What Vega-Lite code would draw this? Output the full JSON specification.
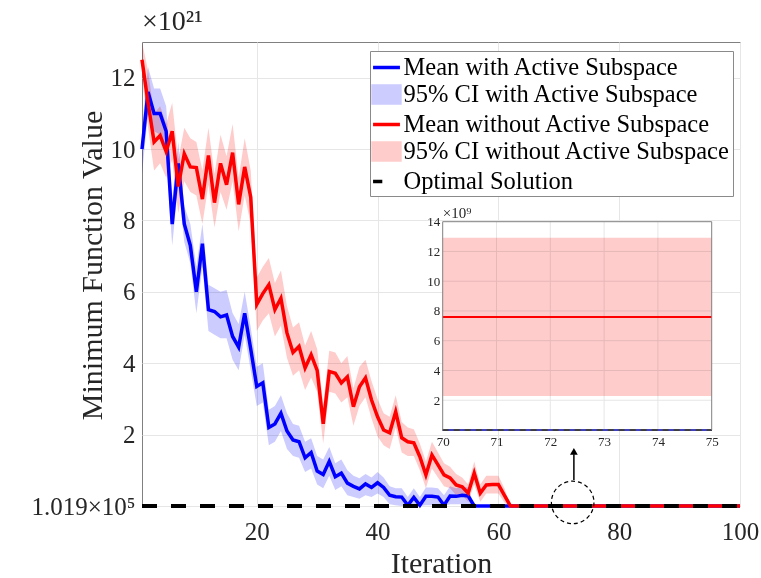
{
 "$schema": "https://vega.github.io/schema/vega-lite/v6.json",
 "width": 598, "height": 464,
 "autosize": "none",
 "padding": {"left": 142, "top": 42, "right": 21, "bottom": 72},
 "background": "white",
 "title": {"text": "×10²¹", "anchor": "start", "frame": "group", "font": "Liberation Serif", "fontSize": 28, "fontWeight": "normal", "color": "#262626", "offset": 6},
 "config": {
  "view": {"stroke": "#808080", "strokeWidth": 1},
  "axis": {"labelFont": "Liberation Serif", "titleFont": "Liberation Serif", "labelColor": "#262626", "titleColor": "#262626", "titleFontWeight": "normal", "domain": false, "ticks": false, "gridColor": "#e6e6e6", "gridWidth": 1}
 },
 "datasets": {
  "m": [
   {"it":1,"bm":10.0,"bl":9.3,"bh":10.6,"rm":12.5,"rl":12.0,"rh":13.0},
   {"it":2,"bm":11.6,"bl":11.0,"bh":12.3,"rm":11.3,"rl":10.6,"rh":12.2},
   {"it":3,"bm":11.0,"bl":10.5,"bh":11.7,"rm":10.2,"rl":9.4,"rh":11.0},
   {"it":4,"bm":11.0,"bl":10.4,"bh":11.7,"rm":10.38,"rl":9.6,"rh":11.2},
   {"it":5,"bm":10.5,"bl":9.8,"bh":11.2,"rm":9.93,"rl":9.2,"rh":10.7},
   {"it":6,"bm":7.9,"bl":7.3,"bh":8.6,"rm":10.5,"rl":9.7,"rh":11.3},
   {"it":7,"bm":9.6,"bl":9.0,"bh":10.2,"rm":8.95,"rl":8.2,"rh":9.7},
   {"it":8,"bm":7.9,"bl":7.4,"bh":8.4,"rm":9.87,"rl":9.1,"rh":10.6},
   {"it":9,"bm":7.3,"bl":6.8,"bh":7.9,"rm":9.5,"rl":8.8,"rh":10.3},
   {"it":10,"bm":6.0,"bl":5.4,"bh":6.7,"rm":9.48,"rl":8.7,"rh":10.2},
   {"it":11,"bm":7.35,"bl":6.7,"bh":7.9,"rm":8.6,"rl":7.9,"rh":9.4},
   {"it":12,"bm":5.5,"bl":4.9,"bh":6.2,"rm":9.82,"rl":9.0,"rh":10.6},
   {"it":13,"bm":5.45,"bl":4.8,"bh":6.1,"rm":8.5,"rl":7.8,"rh":9.3},
   {"it":14,"bm":5.3,"bl":4.7,"bh":6.0,"rm":9.6,"rl":8.8,"rh":10.4},
   {"it":15,"bm":5.35,"bl":4.7,"bh":6.05,"rm":9.0,"rl":8.3,"rh":9.8},
   {"it":16,"bm":4.75,"bl":4.1,"bh":5.4,"rm":9.9,"rl":9.1,"rh":10.7},
   {"it":17,"bm":4.45,"bl":3.8,"bh":5.1,"rm":8.45,"rl":7.7,"rh":9.2},
   {"it":18,"bm":5.4,"bl":4.8,"bh":6.0,"rm":9.5,"rl":8.7,"rh":10.3},
   {"it":19,"bm":4.4,"bl":3.8,"bh":5.0,"rm":8.65,"rl":7.9,"rh":9.4},
   {"it":20,"bm":3.35,"bl":2.8,"bh":3.9,"rm":5.65,"rl":4.9,"rh":6.4},
   {"it":21,"bm":3.45,"bl":2.9,"bh":4.0,"rm":5.95,"rl":5.2,"rh":6.7},
   {"it":22,"bm":2.2,"bl":1.7,"bh":2.7,"rm":6.2,"rl":5.4,"rh":6.95},
   {"it":23,"bm":2.3,"bl":1.8,"bh":2.8,"rm":5.5,"rl":4.75,"rh":6.25},
   {"it":24,"bm":2.6,"bl":2.1,"bh":3.1,"rm":5.82,"rl":5.05,"rh":6.6},
   {"it":25,"bm":2.1,"bl":1.6,"bh":2.6,"rm":4.85,"rl":4.15,"rh":5.6},
   {"it":26,"bm":1.85,"bl":1.4,"bh":2.3,"rm":4.3,"rl":3.65,"rh":5.0},
   {"it":27,"bm":1.8,"bl":1.35,"bh":2.25,"rm":4.47,"rl":3.8,"rh":5.15},
   {"it":28,"bm":1.35,"bl":0.95,"bh":1.8,"rm":3.87,"rl":3.25,"rh":4.5},
   {"it":29,"bm":1.5,"bl":1.05,"bh":1.9,"rm":4.24,"rl":3.6,"rh":4.9},
   {"it":30,"bm":0.98,"bl":0.6,"bh":1.4,"rm":3.8,"rl":3.2,"rh":4.4},
   {"it":31,"bm":0.88,"bl":0.5,"bh":1.3,"rm":2.3,"rl":1.75,"rh":2.85},
   {"it":32,"bm":1.25,"bl":0.85,"bh":1.65,"rm":3.77,"rl":3.2,"rh":4.35},
   {"it":33,"bm":0.82,"bl":0.45,"bh":1.2,"rm":3.72,"rl":3.15,"rh":4.3},
   {"it":34,"bm":0.92,"bl":0.55,"bh":1.3,"rm":3.45,"rl":2.9,"rh":4.0},
   {"it":35,"bm":0.64,"bl":0.3,"bh":1.0,"rm":3.62,"rl":3.05,"rh":4.2},
   {"it":36,"bm":0.55,"bl":0.25,"bh":0.85,"rm":2.78,"rl":2.25,"rh":3.3},
   {"it":37,"bm":0.48,"bl":0.2,"bh":0.78,"rm":3.34,"rl":2.8,"rh":3.9},
   {"it":38,"bm":0.62,"bl":0.3,"bh":0.9,"rm":3.59,"rl":3.05,"rh":4.1},
   {"it":39,"bm":0.52,"bl":0.25,"bh":0.8,"rm":2.97,"rl":2.45,"rh":3.5},
   {"it":40,"bm":0.65,"bl":0.35,"bh":0.95,"rm":2.5,"rl":1.95,"rh":3.0},
   {"it":41,"bm":0.52,"bl":0.25,"bh":0.8,"rm":2.13,"rl":1.7,"rh":2.6},
   {"it":42,"bm":0.3,"bl":0.05,"bh":0.55,"rm":2.05,"rl":1.6,"rh":2.5},
   {"it":43,"bm":0.26,"bl":0.02,"bh":0.5,"rm":2.64,"rl":2.2,"rh":3.1},
   {"it":44,"bm":0.25,"bl":0.0,"bh":0.5,"rm":1.91,"rl":1.5,"rh":2.35},
   {"it":45,"bm":0.02,"bl":0.0,"bh":0.25,"rm":1.8,"rl":1.4,"rh":2.2},
   {"it":46,"bm":0.24,"bl":0.0,"bh":0.5,"rm":1.77,"rl":1.4,"rh":2.15},
   {"it":47,"bm":0.02,"bl":0.0,"bh":0.25,"rm":1.38,"rl":1.0,"rh":1.75},
   {"it":48,"bm":0.27,"bl":0.02,"bh":0.52,"rm":0.87,"rl":0.5,"rh":1.25},
   {"it":49,"bm":0.27,"bl":0.02,"bh":0.52,"rm":1.43,"rl":1.05,"rh":1.8},
   {"it":50,"bm":0.25,"bl":0.02,"bh":0.5,"rm":1.15,"rl":0.8,"rh":1.5},
   {"it":51,"bm":0.02,"bl":0.0,"bh":0.3,"rm":0.87,"rl":0.55,"rh":1.2},
   {"it":52,"bm":0.28,"bl":0.05,"bh":0.55,"rm":0.79,"rl":0.5,"rh":1.1},
   {"it":53,"bm":0.27,"bl":0.05,"bh":0.5,"rm":0.59,"rl":0.3,"rh":0.9},
   {"it":54,"bm":0.3,"bl":0.05,"bh":0.55,"rm":0.54,"rl":0.3,"rh":0.8},
   {"it":55,"bm":0.28,"bl":0.05,"bh":0.52,"rm":0.36,"rl":0.12,"rh":0.6},
   {"it":56,"bm":0,"bl":0,"bh":0,"rm":0.92,"rl":0.6,"rh":1.25},
   {"it":57,"bm":0,"bl":0,"bh":0,"rm":0.36,"rl":0.12,"rh":0.6},
   {"it":58,"bm":0,"bl":0,"bh":0,"rm":0.59,"rl":0.35,"rh":0.85},
   {"it":59,"bm":0,"bl":0,"bh":0,"rm":0.6,"rl":0.35,"rh":0.85},
   {"it":60,"bm":0,"bl":0,"bh":0,"rm":0.6,"rl":0.35,"rh":0.85},
   {"it":61,"bm":0,"bl":0,"bh":0,"rm":0.3,"rl":0.1,"rh":0.5},
   {"it":62,"bm":0,"bl":0,"bh":0,"rm":0,"rl":0,"rh":0},
   {"it":63,"bm":0,"bl":0,"bh":0,"rm":0,"rl":0,"rh":0},
   {"it":64,"bm":0,"bl":0,"bh":0,"rm":0,"rl":0,"rh":0},
   {"it":65,"bm":0,"bl":0,"bh":0,"rm":0,"rl":0,"rh":0},
   {"it":66,"bm":0,"bl":0,"bh":0,"rm":0,"rl":0,"rh":0},
   {"it":67,"bm":0,"bl":0,"bh":0,"rm":0,"rl":0,"rh":0},
   {"it":68,"bm":0,"bl":0,"bh":0,"rm":0,"rl":0,"rh":0},
   {"it":69,"bm":0,"bl":0,"bh":0,"rm":0,"rl":0,"rh":0},
   {"it":70,"bm":0,"bl":0,"bh":0,"rm":0,"rl":0,"rh":0},
   {"it":71,"bm":0,"bl":0,"bh":0,"rm":0,"rl":0,"rh":0},
   {"it":72,"bm":0,"bl":0,"bh":0,"rm":0,"rl":0,"rh":0},
   {"it":73,"bm":0,"bl":0,"bh":0,"rm":0,"rl":0,"rh":0},
   {"it":74,"bm":0,"bl":0,"bh":0,"rm":0,"rl":0,"rh":0},
   {"it":75,"bm":0,"bl":0,"bh":0,"rm":0,"rl":0,"rh":0},
   {"it":76,"bm":0,"bl":0,"bh":0,"rm":0,"rl":0,"rh":0},
   {"it":77,"bm":0,"bl":0,"bh":0,"rm":0,"rl":0,"rh":0},
   {"it":78,"bm":0,"bl":0,"bh":0,"rm":0,"rl":0,"rh":0},
   {"it":79,"bm":0,"bl":0,"bh":0,"rm":0,"rl":0,"rh":0},
   {"it":80,"bm":0,"bl":0,"bh":0,"rm":0,"rl":0,"rh":0},
   {"it":81,"bm":0,"bl":0,"bh":0,"rm":0,"rl":0,"rh":0},
   {"it":82,"bm":0,"bl":0,"bh":0,"rm":0,"rl":0,"rh":0},
   {"it":83,"bm":0,"bl":0,"bh":0,"rm":0,"rl":0,"rh":0},
   {"it":84,"bm":0,"bl":0,"bh":0,"rm":0,"rl":0,"rh":0},
   {"it":85,"bm":0,"bl":0,"bh":0,"rm":0,"rl":0,"rh":0},
   {"it":86,"bm":0,"bl":0,"bh":0,"rm":0,"rl":0,"rh":0},
   {"it":87,"bm":0,"bl":0,"bh":0,"rm":0,"rl":0,"rh":0},
   {"it":88,"bm":0,"bl":0,"bh":0,"rm":0,"rl":0,"rh":0},
   {"it":89,"bm":0,"bl":0,"bh":0,"rm":0,"rl":0,"rh":0},
   {"it":90,"bm":0,"bl":0,"bh":0,"rm":0,"rl":0,"rh":0},
   {"it":91,"bm":0,"bl":0,"bh":0,"rm":0,"rl":0,"rh":0},
   {"it":92,"bm":0,"bl":0,"bh":0,"rm":0,"rl":0,"rh":0},
   {"it":93,"bm":0,"bl":0,"bh":0,"rm":0,"rl":0,"rh":0},
   {"it":94,"bm":0,"bl":0,"bh":0,"rm":0,"rl":0,"rh":0},
   {"it":95,"bm":0,"bl":0,"bh":0,"rm":0,"rl":0,"rh":0},
   {"it":96,"bm":0,"bl":0,"bh":0,"rm":0,"rl":0,"rh":0},
   {"it":97,"bm":0,"bl":0,"bh":0,"rm":0,"rl":0,"rh":0},
   {"it":98,"bm":0,"bl":0,"bh":0,"rm":0,"rl":0,"rh":0},
   {"it":99,"bm":0,"bl":0,"bh":0,"rm":0,"rl":0,"rh":0},
   {"it":100,"bm":0,"bl":0,"bh":0,"rm":0,"rl":0,"rh":0}
  ],
  "inset": [
   {"ix":70,"rm":7.6,"rl":2.28,"rh":12.92,"z":0},
   {"ix":75,"rm":7.6,"rl":2.28,"rh":12.92,"z":0}
  ]
 },
 "layer": [
  {
   "data": {"name": "m"},
   "mark": {"type": "area", "opacity": 1, "blend": "multiply"},
   "encoding": {
    "x": {"field": "it", "type": "quantitative", "scale": {"domain": [1, 100], "nice": false, "zero": false},
          "axis": {"orient": "bottom", "values": [20, 40, 60, 80, 100], "labelFontSize": 25, "labelPadding": 13, "grid": true, "labelFlush": false, "title": "Iteration", "titleFontSize": 30, "titleY": 57, "titleBaseline": "middle"}},
    "y": {"field": "bl", "type": "quantitative", "scale": {"domain": [0, 13], "nice": false, "zero": false},
          "axis": {"orient": "left", "values": [0, 2, 4, 6, 8, 10, 12], "labelExpr": "datum.value == 0 ? '1.019×10⁵' : datum.label", "labelFontSize": 25, "labelPadding": 7, "grid": true, "title": "Minimum Function Value", "titleFontSize": 30, "titleX": -50, "titleY": 223, "titleBaseline": "middle"}},
    "y2": {"field": "bh"},
    "color": {"datum": "95% CI with Active Subspace", "type": "nominal",
      "scale": {"domain": ["Mean with Active Subspace", "95% CI with Active Subspace", "Mean without Active Subspace", "95% CI without Active Subspace", "Optimal Solution"], "range": ["#0000ff", "#ccccff", "#ff0000", "#ffcccc", "#000000"]},
      "legend": {"title": null, "orient": "none", "legendX": 228, "legendY": 9, "direction": "vertical",
        "labelFont": "Liberation Serif", "labelFontSize": 24.5, "labelColor": "#000000", "labelLimit": 500,
        "symbolSize": 576, "symbolStrokeWidth": 3.5, "symbolOpacity": 1, "labelOffset": 3, "rowPadding": -1, "padding": 2.5,
        "fillColor": "#ffffff", "strokeColor": "#8a8a8a",
        "encoding": {"symbols": {
          "shape": {"value": {"expr": "indexof(datum.value, 'CI') >= 0 ? 'M-1.12,-0.7H1.12V0.7H-1.12Z' : datum.value == 'Optimal Solution' ? 'M-1.12,0H-0.35' : 'M-1.12,0H1.12'"}},
          "stroke": {"value": {"expr": "indexof(datum.value, 'CI') >= 0 ? 'transparent' : datum.value == 'Optimal Solution' ? '#000000' : datum.value == 'Mean with Active Subspace' ? '#0000ff' : '#ff0000'"}}
        }}
      }
    }
   }
  },
  {
   "data": {"name": "m"},
   "mark": {"type": "area", "opacity": 1, "blend": "multiply"},
   "encoding": {
    "x": {"field": "it", "type": "quantitative", "scale": {"domain": [1, 100], "nice": false, "zero": false}, "axis": null},
    "y": {"field": "rl", "type": "quantitative", "scale": {"domain": [0, 13], "nice": false, "zero": false}, "axis": null},
    "y2": {"field": "rh"},
    "color": {"datum": "95% CI without Active Subspace", "type": "nominal", "legend": null}
   }
  },
  {
   "data": {"name": "m"},
   "mark": {"type": "line", "strokeWidth": 3.5},
   "encoding": {
    "x": {"field": "it", "type": "quantitative", "scale": {"domain": [1, 100], "nice": false, "zero": false}, "axis": null},
    "y": {"field": "bm", "type": "quantitative", "scale": {"domain": [0, 13], "nice": false, "zero": false}, "axis": null},
    "color": {"datum": "Mean with Active Subspace", "type": "nominal", "legend": null}
   }
  },
  {
   "data": {"name": "m"},
   "mark": {"type": "line", "strokeWidth": 3.5},
   "encoding": {
    "x": {"field": "it", "type": "quantitative", "scale": {"domain": [1, 100], "nice": false, "zero": false}, "axis": null},
    "y": {"field": "rm", "type": "quantitative", "scale": {"domain": [0, 13], "nice": false, "zero": false}, "axis": null},
    "color": {"datum": "Mean without Active Subspace", "type": "nominal", "legend": null}
   }
  },
  {
   "data": {"values": [{"a": 1, "b": 100, "v": 0}]},
   "mark": {"type": "rule", "strokeWidth": 4, "strokeDash": [15, 14]},
   "encoding": {
    "x": {"field": "a", "type": "quantitative", "scale": {"domain": [1, 100], "nice": false, "zero": false}, "axis": null},
    "x2": {"field": "b"},
    "y": {"field": "v", "type": "quantitative", "scale": {"domain": [0, 13], "nice": false, "zero": false}, "axis": null},
    "color": {"datum": "Optimal Solution", "type": "nominal", "legend": null}
   }
  },
  {
   "data": {"values": [{"it": 72.3, "v": 0.1}]},
   "mark": {"type": "point", "shape": "circle", "size": 1810, "filled": false, "color": "#000000", "strokeWidth": 1.2, "strokeDash": [4, 3], "opacity": 1},
   "encoding": {
    "x": {"field": "it", "type": "quantitative", "scale": {"domain": [1, 100], "nice": false, "zero": false}, "axis": null},
    "y": {"field": "v", "type": "quantitative", "scale": {"domain": [0, 13], "nice": false, "zero": false}, "axis": null}
   }
  },
  {
   "data": {"values": [{"it": 72.5, "v1": 0.73, "v2": 1.45}]},
   "mark": {"type": "rule", "color": "#000000", "strokeWidth": 1.5},
   "encoding": {
    "x": {"field": "it", "type": "quantitative", "scale": {"domain": [1, 100], "nice": false, "zero": false}, "axis": null},
    "y": {"field": "v1", "type": "quantitative", "scale": {"domain": [0, 13], "nice": false, "zero": false}, "axis": null},
    "y2": {"field": "v2"}
   }
  },
  {
   "data": {"values": [{"it": 72.5, "v": 1.53}]},
   "mark": {"type": "point", "shape": "triangle-up", "size": 60, "filled": true, "color": "#000000", "opacity": 1},
   "encoding": {
    "x": {"field": "it", "type": "quantitative", "scale": {"domain": [1, 100], "nice": false, "zero": false}, "axis": null},
    "y": {"field": "v", "type": "quantitative", "scale": {"domain": [0, 13], "nice": false, "zero": false}, "axis": null}
   }
  },
  {
   "data": {"values": [{"x1": 70, "x2": 75, "y1": 0, "y2": 14}]},
   "mark": {"type": "rect", "fill": "#ffffff", "strokeWidth": 0},
   "encoding": {
    "x": {"field": "x1", "type": "quantitative", "scale": {"domain": [64.411, 75.526], "nice": false, "zero": false},
          "axis": {"orient": "bottom", "offset": -76, "values": [70, 71, 72, 73, 74, 75], "labelFontSize": 13, "labelPadding": 5, "grid": false, "title": null, "zindex": 1, "labelFlush": false}},
    "x2": {"field": "x2"},
    "y": {"field": "y1", "type": "quantitative", "scale": {"domain": [-5.108, 26.077], "nice": false, "zero": false},
          "axis": {"orient": "left", "offset": -300.7, "values": [2, 4, 6, 8, 10, 12, 14], "labelFontSize": 13, "labelPadding": 3, "grid": false, "title": null, "zindex": 1}},
    "y2": {"field": "y2"}
   }
  },
  {
   "data": {"values": [{"g": 71}, {"g": 72}, {"g": 73}, {"g": 74}]},
   "mark": {"type": "rule", "color": "#e6e6e6", "strokeWidth": 1},
   "encoding": {
    "x": {"field": "g", "type": "quantitative", "scale": {"domain": [64.411, 75.526], "nice": false, "zero": false}, "axis": null},
    "y": {"datum": 0, "type": "quantitative", "scale": {"domain": [-5.108, 26.077], "nice": false, "zero": false}, "axis": null},
    "y2": {"datum": 14}
   }
  },
  {
   "data": {"values": [{"g": 2}, {"g": 4}, {"g": 6}, {"g": 8}, {"g": 10}, {"g": 12}]},
   "mark": {"type": "rule", "color": "#e6e6e6", "strokeWidth": 1},
   "encoding": {
    "y": {"field": "g", "type": "quantitative", "scale": {"domain": [-5.108, 26.077], "nice": false, "zero": false}, "axis": null},
    "x": {"datum": 70, "type": "quantitative", "scale": {"domain": [64.411, 75.526], "nice": false, "zero": false}, "axis": null},
    "x2": {"datum": 75}
   }
  },
  {
   "data": {"name": "inset"},
   "mark": {"type": "area", "color": "#ffcccc", "opacity": 1, "blend": "multiply"},
   "encoding": {
    "x": {"field": "ix", "type": "quantitative", "scale": {"domain": [64.411, 75.526], "nice": false, "zero": false}, "axis": null},
    "y": {"field": "rl", "type": "quantitative", "scale": {"domain": [-5.108, 26.077], "nice": false, "zero": false}, "axis": null},
    "y2": {"field": "rh"}
   }
  },
  {
   "data": {"name": "inset"},
   "mark": {"type": "line", "color": "#ff0000", "strokeWidth": 2},
   "encoding": {
    "x": {"field": "ix", "type": "quantitative", "scale": {"domain": [64.411, 75.526], "nice": false, "zero": false}, "axis": null},
    "y": {"field": "rm", "type": "quantitative", "scale": {"domain": [-5.108, 26.077], "nice": false, "zero": false}, "axis": null}
   }
  },
  {
   "data": {"name": "inset"},
   "mark": {"type": "line", "color": "#0000ff", "strokeWidth": 2},
   "encoding": {
    "x": {"field": "ix", "type": "quantitative", "scale": {"domain": [64.411, 75.526], "nice": false, "zero": false}, "axis": null},
    "y": {"field": "z", "type": "quantitative", "scale": {"domain": [-5.108, 26.077], "nice": false, "zero": false}, "axis": null}
   }
  },
  {
   "data": {"name": "inset"},
   "mark": {"type": "line", "color": "#000000", "strokeWidth": 2, "strokeDash": [6, 5]},
   "encoding": {
    "x": {"field": "ix", "type": "quantitative", "scale": {"domain": [64.411, 75.526], "nice": false, "zero": false}, "axis": null},
    "y": {"field": "z", "type": "quantitative", "scale": {"domain": [-5.108, 26.077], "nice": false, "zero": false}, "axis": null}
   }
  },
  {
   "data": {"values": [{"x1": 70, "x2": 75, "y1": 0, "y2": 14}]},
   "mark": {"type": "rect", "fillOpacity": 0, "stroke": "#808080", "strokeWidth": 1},
   "encoding": {
    "x": {"field": "x1", "type": "quantitative", "scale": {"domain": [64.411, 75.526], "nice": false, "zero": false}, "axis": null},
    "x2": {"field": "x2"},
    "y": {"field": "y1", "type": "quantitative", "scale": {"domain": [-5.108, 26.077], "nice": false, "zero": false}, "axis": null},
    "y2": {"field": "y2"}
   }
  },
  {
   "data": {"values": [{"x": 70, "y": 14, "t": "×10⁹"}]},
   "mark": {"type": "text", "align": "left", "baseline": "bottom", "dy": -1, "font": "Liberation Serif", "fontSize": 15, "color": "#262626"},
   "encoding": {
    "x": {"field": "x", "type": "quantitative", "scale": {"domain": [64.411, 75.526], "nice": false, "zero": false}, "axis": null},
    "y": {"field": "y", "type": "quantitative", "scale": {"domain": [-5.108, 26.077], "nice": false, "zero": false}, "axis": null},
    "text": {"field": "t"}
   }
  }
 ],
 "resolve": {"scale": {"x": "independent", "y": "independent"}}
}
